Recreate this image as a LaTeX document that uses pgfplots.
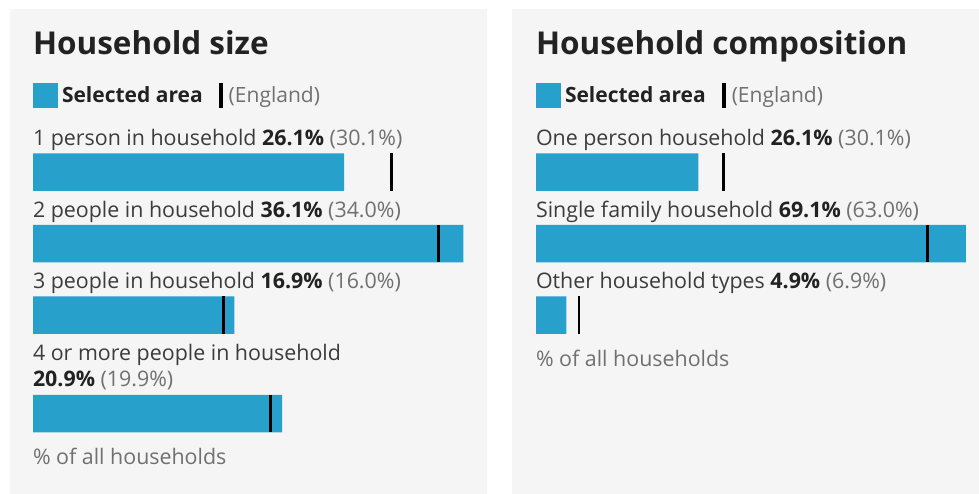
\documentclass[border=0pt]{standalone}
\usepackage{pgfplots}
\pgfplotsset{compat=1.18}
\usepackage{fontspec}
\setmainfont{Open Sans}
\definecolor{barblue}{HTML}{27A0CC}
\definecolor{panelbg}{HTML}{F5F5F5}
\definecolor{titlec}{HTML}{222222}
\definecolor{labc}{HTML}{3C3C3C}
\definecolor{subc}{HTML}{707071}
\newcommand{\lab}[3]{{\color{labc}#1} {\bfseries\color{titlec}#2} {\color{subc}(#3)}}
\tikzset{
  lbl/.style={inner sep=0pt, outer sep=0pt, anchor=base west, font=\fontsize{21.4}{25}\selectfont},
  ttl/.style={inner sep=0pt, outer sep=0pt, anchor=base west, text=titlec, font=\fontsize{31.5}{38}\selectfont\bfseries},
}
\pgfplotsset{
  panel/.style={
    anchor=origin, xmin=0, ymin=0, ymax=494,
    y={(0pt,-1pt)},
    axis lines=none, ticks=none, clip=false,
    legend style={at={(axis cs:0,95)}, anchor=west, draw=none, fill=none,
      inner sep=0pt, outer sep=0pt, column sep=0pt,
      nodes={inner sep=0pt, outer sep=0pt, font=\fontsize{21}{25}\selectfont}},
    legend columns=2,
    legend cell align=left,
  },
  barsty/.style={xbar, fill=barblue, draw=none, bar width=37.5pt, forget plot},
  marksty/.style={only marks, mark=|, mark size=18.75pt, mark options={line width=2.8pt, draw=black}, forget plot},
  legsq/.style={legend image code/.code={\path[draw=none,fill=none] (0pt,0pt) -- (29pt,0pt); \fill[barblue, draw=none] (0pt,-12.5pt) rectangle (24.5pt,12.5pt);}},
  legln/.style={legend image code/.code={\path[draw=none,fill=none] (0pt,0pt) -- (26pt,0pt); \fill[black, draw=none] (16pt,-12.5pt) rectangle (20pt,12.5pt);}},
}
\begin{document}
\begin{tikzpicture}[x=1pt,y=1pt]
\fill[white] (0,0) rectangle (979,-494);
\fill[panelbg] (10,-9) rectangle (487,-494);
\fill[panelbg] (512,-9) rectangle (979,-494);
% ---------- Left panel: Household size ----------
\begin{axis}[panel, at={(33pt,0pt)}, x={(11.92pt,0pt)}, xmax=37]
\addlegendimage{legsq}
\addlegendentry{\bfseries\color{titlec}Selected area}
\addlegendimage{legln}
\addlegendentry{\color{subc}(England)}
\addplot[barsty] coordinates {(26.1,172) (36.1,243.5) (16.9,315) (20.9,413.5)};
\addplot[marksty] coordinates {(30.1,172) (34.0,243.5) (16.0,315) (19.9,413.5)};
\node[ttl] at (axis cs:0,54.3) {Household size};
\node[lbl] at (axis cs:0,145.5) {\lab{1 person in household}{26.1\%}{30.1\%}};
\node[lbl] at (axis cs:0,217) {\lab{2 people in household}{36.1\%}{34.0\%}};
\node[lbl] at (axis cs:0,288.5) {\lab{3 people in household}{16.9\%}{16.0\%}};
\node[lbl, text=labc] at (axis cs:0,360) {4 or more people in household};
\node[lbl] at (axis cs:0,386) {{\bfseries\color{titlec}20.9\%} {\color{subc}(19.9\%)}};
\node[lbl, text=subc] at (axis cs:0,464.3) {\% of all households};
\end{axis}
% ---------- Right panel: Household composition ----------
\begin{axis}[panel, at={(536pt,0pt)}, x={(6.22pt,0pt)}, xmax=70]
\addlegendimage{legsq}
\addlegendentry{\bfseries\color{titlec}Selected area}
\addlegendimage{legln}
\addlegendentry{\color{subc}(England)}
\addplot[barsty] coordinates {(26.1,172) (69.1,243.5) (4.9,315)};
\addplot[marksty] coordinates {(30.1,172) (63.0,243.5) (6.9,315)};
\node[ttl] at (axis cs:0,54.3) {Household composition};
\node[lbl] at (axis cs:0,145.5) {\lab{One person household}{26.1\%}{30.1\%}};
\node[lbl] at (axis cs:0,217) {\lab{Single family household}{69.1\%}{63.0\%}};
\node[lbl] at (axis cs:0,288.5) {\lab{Other household types}{4.9\%}{6.9\%}};
\node[lbl, text=subc] at (axis cs:0,366.5) {\% of all households};
\end{axis}
\end{tikzpicture}
\end{document}
